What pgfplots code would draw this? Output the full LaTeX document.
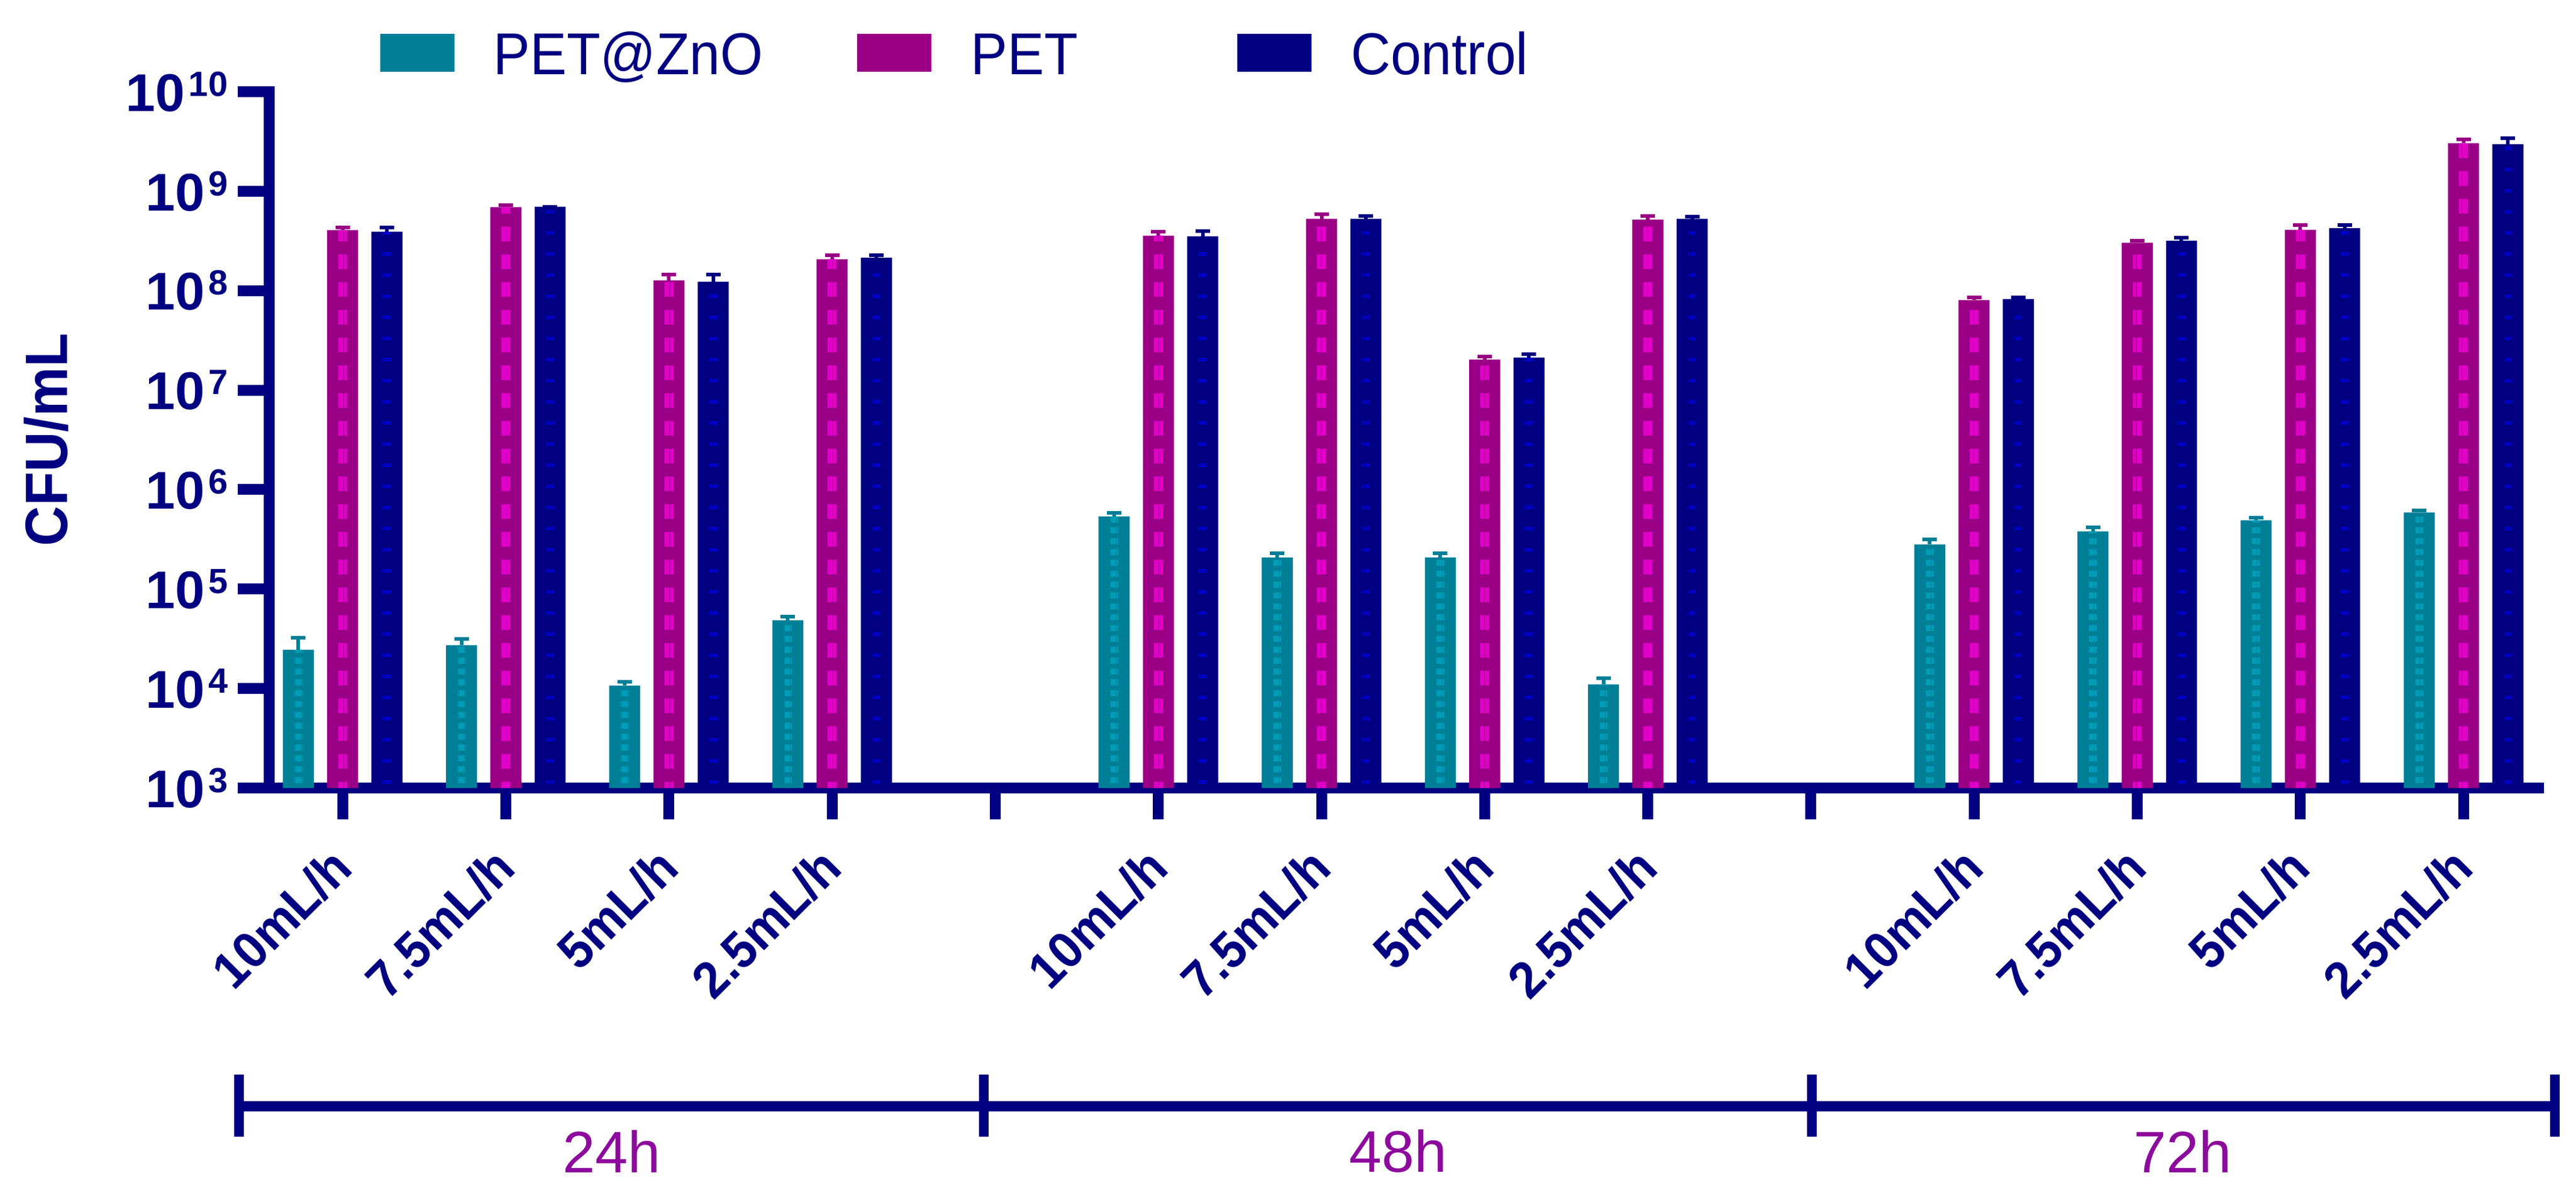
\documentclass[border=0pt]{standalone}
\usepackage{fontspec}
\setmainfont{Liberation Sans}
\newfontfamily\condA{Liberation Sans}[FakeStretch=0.93]
\newfontfamily\condB{Liberation Sans}[FakeStretch=0.95]
\usepackage{pgfplots}
\pgfplotsset{compat=1.18}
\usepackage{pgfplotstable}
\usetikzlibrary{patterns}

\definecolor{navy}{HTML}{000080}
\definecolor{navyhi}{HTML}{0000C8}
\definecolor{tealbar}{HTML}{007F96}
\definecolor{tealhi}{HTML}{009CB8}
\definecolor{pinkbar}{HTML}{990085}
\definecolor{pinkhi}{HTML}{E100C8}
\definecolor{grouptext}{HTML}{8C0A9C}

% vertical dash textures inside the bars
\pgfdeclarepatternformonly{pinkstripe}{\pgfqpoint{0pt}{0pt}}{\pgfqpoint{1pt}{4.6pt}}{\pgfqpoint{1pt}{4.6pt}}%
  {\pgfpathrectangle{\pgfqpoint{0pt}{0pt}}{\pgfqpoint{1pt}{2.5pt}}\pgfusepath{fill}}
\pgfdeclarepatternformonly{navydots}{\pgfqpoint{0pt}{0pt}}{\pgfqpoint{1pt}{3.5pt}}{\pgfqpoint{1pt}{3.5pt}}%
  {\pgfpathrectangle{\pgfqpoint{0pt}{0pt}}{\pgfqpoint{1pt}{0.6pt}}\pgfusepath{fill}}
\pgfdeclarepatternformonly{tealdash}{\pgfqpoint{0pt}{0pt}}{\pgfqpoint{1pt}{1.8pt}}{\pgfqpoint{1pt}{1.8pt}}%
  {\pgfpathrectangle{\pgfqpoint{0pt}{0pt}}{\pgfqpoint{1pt}{1.0pt}}\pgfusepath{fill}}

% x: 0-3 = 24h, 5-8 = 48h, 10-13 = 72h
\pgfplotstableread{
x  zno     znoerr  pet     peterr  ctl     ctlerr
0  2.45e4  0.80e4  4.06e8  0.23e8  3.91e8  0.38e8
1  2.72e4  0.45e4  6.89e8  0.30e8  6.97e8  0
2  1.07e4  0.10e4  1.27e8  0.18e8  1.23e8  0.22e8
3  4.85e4  0.40e4  2.07e8  0.20e8  2.14e8  0.13e8
5  5.37e5  0.50e5  3.57e8  0.34e8  3.52e8  0.43e8
6  2.08e5  0.20e5  5.28e8  0.58e8  5.28e8  0.38e8
7  2.08e5  0.20e5  2.03e7  0.14e7  2.12e7  0.18e7
8  1.10e4  0.17e4  5.16e8  0.50e8  5.28e8  0.30e8
10 2.81e5  0.35e5  8.02e7  0.50e7  8.23e7  0.30e7
11 3.80e5  0.40e5  3.03e8  0.15e8  3.18e8  0.22e8
12 4.90e5  0.30e5  4.09e8  0.45e8  4.25e8  0.30e8
13 5.89e5  0.30e5  3.03e9  0.30e9  2.96e9  0.44e9
}\cfu

\newcommand\ep[1]{\textbf{10}\hspace{0.6pt}\raisebox{2.5pt}{\fontsize{5.8}{6}\selectfont\bfseries #1}}
% offset of the side bars, in x units (7.34pt / 27.03pt)
\def\off{0.27155}

\begin{document}
\begin{tikzpicture}
\path[use as bounding box] (-44.64pt,-65.7pt) rectangle (382.16pt,130.6pt);
\begin{axis}[
  at={(0pt,0pt)}, anchor=south west,
  scale only axis, width=375.96pt, height=115.42pt,
  xmin=-0.449, xmax=13.46,
  ymode=log, log basis y=10, ymin=1e3, ymax=1e10,
  log origin y=infty,
  axis x line=bottom, axis y line=left,
  every outer x axis line/.append style={-},
  every outer y axis line/.append style={-},
  axis line style={-, line width=1.8pt, draw=navy, line cap=rect},
  tick style={line width=1.8pt, draw=navy},
  tick align=outside, major tick length=5.2pt,
  yminorticks=false,
  xtick={0,1,...,13},
  xticklabels={10mL/h,7.5mL/h,5mL/h,2.5mL/h,{},10mL/h,7.5mL/h,5mL/h,2.5mL/h,{},10mL/h,7.5mL/h,5mL/h,2.5mL/h},
  xticklabel style={rotate=45, anchor=east, inner sep=0pt, font=\condB\bfseries\fontsize{8.5}{9}\selectfont, text=navy},
  xticklabel shift=6.3pt,
  ytick={1e3,1e4,1e5,1e6,1e7,1e8,1e9,1e10},
  yticklabels={\ep{3},\ep{4},\ep{5},\ep{6},\ep{7},\ep{8},\ep{9},\ep{10}},
  yticklabel style={font=\fontsize{8.8}{10}\selectfont, text=navy, inner sep=0pt},
  yticklabel shift=1.5pt,
  ylabel={CFU/mL},
  ylabel style={at={(axis description cs:-0.0984,0.5)}, anchor=center, font=\condA\bfseries\fontsize{9.9}{11}\selectfont, text=navy},
  clip=false,
  legend columns=3,
  legend cell align=left,
  legend style={at={(axis description cs:0.0487,1.0558)}, anchor=west, draw=none, fill=none,
    inner sep=0pt, outer sep=0pt, font=\condA\fontsize{9.8}{11}\selectfont, text=navy,
    nodes={inner sep=0pt, text height=7.1pt, text depth=0pt},
    /tikz/every odd column/.append style={column sep=6.5pt}},
]

\addplot[ybar, bar width=5.14pt, bar shift=0pt, fill=tealbar, draw=none,
  legend image code/.code={\fill[tealbar] (0pt,-3.15pt) rectangle (12.3pt,3.15pt);},
  error bars/.cd, y dir=plus, y explicit,
  error bar style={draw=tealbar, line width=0.6pt},
  error mark options={rotate=90, draw=tealbar, line width=0.6pt, mark size=1.2pt}]
  table[x expr=\thisrow{x}-\off, y=zno, y error=znoerr] {\cfu};
\addlegendentry{\makebox[60.3pt][l]{PET@ZnO}}

\addplot[ybar, bar width=5.14pt, bar shift=0pt, fill=pinkbar, draw=none,
  legend image code/.code={\fill[pinkbar] (0pt,-3.15pt) rectangle (12.3pt,3.15pt);},
  error bars/.cd, y dir=plus, y explicit,
  error bar style={draw=pinkbar, line width=0.6pt},
  error mark options={rotate=90, draw=pinkbar, line width=0.6pt, mark size=1.2pt}]
  table[x=x, y=pet, y error=peterr] {\cfu};
\addlegendentry{\makebox[44.2pt][l]{PET}}

\addplot[ybar, bar width=5.14pt, bar shift=0pt, fill=navy, draw=none,
  legend image code/.code={\fill[navy] (0pt,-3.15pt) rectangle (12.3pt,3.15pt);},
  error bars/.cd, y dir=plus, y explicit,
  error bar style={draw=navy, line width=0.6pt},
  error mark options={rotate=90, draw=navy, line width=0.6pt, mark size=1.2pt}]
  table[x expr=\thisrow{x}+\off, y=ctl, y error=ctlerr] {\cfu};
\addlegendentry{Control}

% textures
\addplot[forget plot, ybar, bar width=1.3pt, bar shift=0pt, draw=none,
  pattern=tealdash, pattern color=tealhi] table[x expr=\thisrow{x}-\off, y=zno] {\cfu};
\addplot[forget plot, ybar, bar width=1.5pt, bar shift=0pt, draw=none,
  pattern=pinkstripe, pattern color=pinkhi] table[x=x, y=pet] {\cfu};
\addplot[forget plot, ybar, bar width=1.4pt, bar shift=0pt, draw=none,
  pattern=navydots, pattern color=navyhi] table[x expr=\thisrow{x}+\off, y=ctl] {\cfu};

% time brackets
\draw[navy, line width=1.7pt] ([yshift=-52.7pt]axis cs:-0.635,1e3) -- ([yshift=-52.7pt]axis cs:13.56,1e3);
\draw[navy, line width=1.6pt] ([yshift=-47.5pt]axis cs:-0.635,1e3) -- ([yshift=-57.8pt]axis cs:-0.635,1e3);
\draw[navy, line width=1.6pt] ([yshift=-47.5pt]axis cs:3.93,1e3) -- ([yshift=-57.8pt]axis cs:3.93,1e3);
\draw[navy, line width=1.6pt] ([yshift=-47.5pt]axis cs:9.006,1e3) -- ([yshift=-57.8pt]axis cs:9.006,1e3);
\draw[navy, line width=1.6pt] ([yshift=-47.5pt]axis cs:13.56,1e3) -- ([yshift=-57.8pt]axis cs:13.56,1e3);
\node[text=grouptext, font=\fontsize{9.7}{11}\selectfont] at ([yshift=-60.2pt]axis cs:1.65,1e3) {24h};
\node[text=grouptext, font=\fontsize{9.7}{11}\selectfont] at ([yshift=-60.2pt]axis cs:6.47,1e3) {48h};
\node[text=grouptext, font=\fontsize{9.7}{11}\selectfont] at ([yshift=-60.2pt]axis cs:11.28,1e3) {72h};
\end{axis}
\end{tikzpicture}
\end{document}
